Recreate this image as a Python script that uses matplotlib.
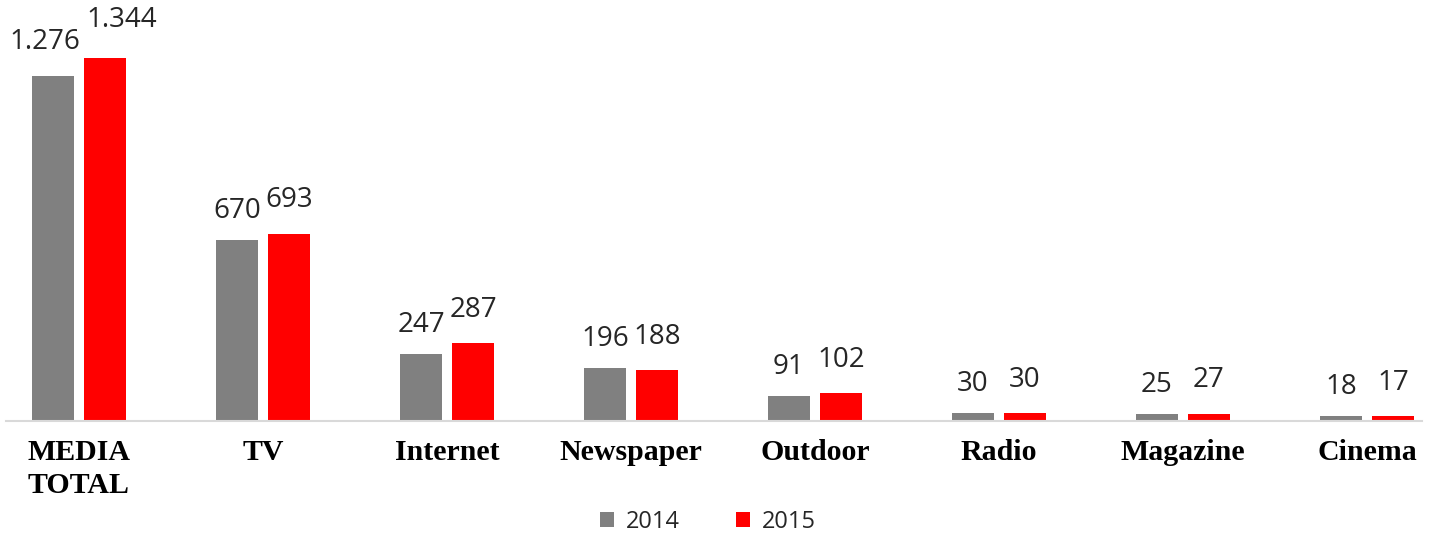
import numpy as np
import matplotlib.pyplot as plt

categories = ['MEDIA\nTOTAL', 'TV', 'Internet', 'Newspaper', 'Outdoor', 'Radio', 'Magazine', 'Cinema']
v2014 = [1276, 670, 247, 196, 91, 30, 25, 18]
v2015 = [1344, 693, 287, 188, 102, 30, 27, 17]
lab2014 = ['1.276', '670', '247', '196', '91', '30', '25', '18']
lab2015 = ['1.344', '693', '287', '188', '102', '30', '27', '17']

fig = plt.figure(figsize=(14.43, 5.39), dpi=100)
ax = fig.add_axes([6 / 1443, 118 / 539, 1416 / 1443, 421 / 539])

x = np.arange(len(categories))
w = 42 / 184
off = 26 / 184
b1 = ax.bar(x - off, v2014, w, color='#808080', label='2014')
b2 = ax.bar(x + off, v2015, w, color='#ff0000', label='2015')

# value labels (first pair pushed apart like in the original)
for i in range(len(x)):
    dx1, dx2, dy1, dy2 = 0, 0, 16, 19
    if i == 0:
        dx1, dx2, dy1, dy2 = -5.5, 12, 19.5, 22.5
    ax.annotate(lab2014[i], (x[i] - off, v2014[i]), xytext=(dx1, dy1), textcoords='offset points',
                ha='center', va='baseline', fontsize=20, color='#262626', family='Open Sans')
    ax.annotate(lab2015[i], (x[i] + off, v2015[i]), xytext=(dx2, dy2), textcoords='offset points',
                ha='center', va='baseline', fontsize=20, color='#262626', family='Open Sans')

ax.set_xlim((6 - 79) / 184, (1422 - 79) / 184)
ax.set_ylim(0, 421 / (363 / 1344))
ax.set_xticks(x)
ax.set_xticklabels(categories, fontsize=21.5, fontweight='bold', family='Liberation Serif',
                   linespacing=1.3, va='top')
ax.tick_params(axis='x', length=0, pad=13)
ax.set_yticks([])
for s in ['top', 'right', 'left']:
    ax.spines[s].set_visible(False)
ax.spines['bottom'].set_color('#d9d9d9')
ax.spines['bottom'].set_linewidth(1.5)

fig.legend(handles=[b1, b2], loc='center', bbox_to_anchor=(708 / 1443, 1 - 522 / 539), ncol=2,
           frameon=False, prop={'family': 'Open Sans', 'size': 17}, handlelength=0.6, handleheight=0.6,
           columnspacing=2.4, handletextpad=0.5, labelcolor='#262626')

plt.savefig('out.png', dpi=100)
